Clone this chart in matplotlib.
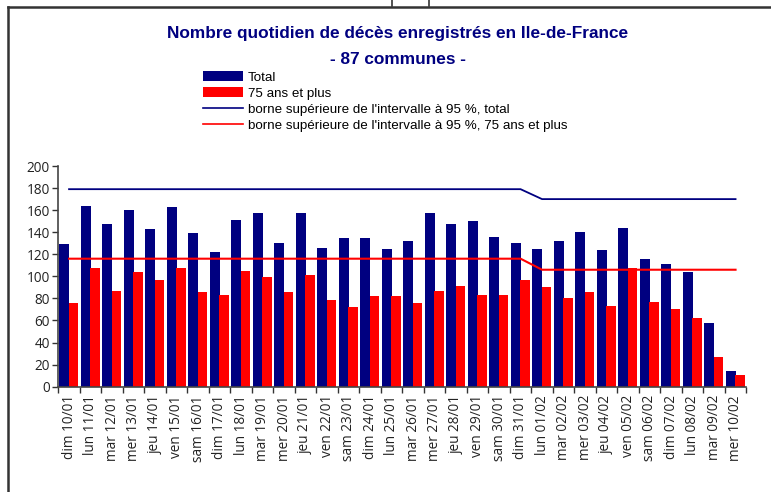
import matplotlib
matplotlib.use("Agg")
import matplotlib.pyplot as plt
from matplotlib import font_manager
from matplotlib.lines import Line2D
from matplotlib.patches import Patch
import numpy as np

labels = ["dim 10/01", "lun 11/01", "mar 12/01", "mer 13/01", "jeu 14/01", "ven 15/01",
          "sam 16/01", "dim 17/01", "lun 18/01", "mar 19/01", "mer 20/01", "jeu 21/01",
          "ven 22/01", "sam 23/01", "dim 24/01", "lun 25/01", "mar 26/01", "mer 27/01",
          "jeu 28/01", "ven 29/01", "sam 30/01", "dim 31/01", "lun 01/02", "mar 02/02",
          "mer 03/02", "jeu 04/02", "ven 05/02", "sam 06/02", "dim 07/02", "lun 08/02",
          "mar 09/02", "mer 10/02"]
total = [129, 164, 147, 160, 143, 163, 139, 122, 151, 157, 130, 157, 126, 135, 135, 125,
         132, 157, 147, 150, 136, 130, 125, 132, 140, 124, 144, 116, 111, 104, 58, 14]
age75 = [76, 108, 87, 104, 97, 108, 86, 83, 105, 99, 86, 101, 79, 72, 82, 82,
         76, 87, 91, 83, 83, 97, 90, 80, 86, 73, 108, 77, 70, 62, 27, 11]
upper_total = [179] * 22 + [170] * 10
upper_75 = [116] * 22 + [106] * 10
yticks = [0, 20, 40, 60, 80, 100, 120, 140, 160, 180, 200]

avail = {f.name for f in font_manager.fontManager.ttflist}
narrow = "Liberation Sans Narrow" if "Liberation Sans Narrow" in avail else None

NAVY = "#000080"
RED = "#FF0000"

W, H = 771, 492
fig = plt.figure(figsize=(W / 100, H / 100), dpi=100)
ax = fig.add_axes([58.3 / W, 1 - 386.7 / H, 688 / W, 220.7 / H])

x = np.arange(len(labels))
bw = 0.45
ax.bar(x - 0.22, total, width=bw, color=NAVY, zorder=2)
ax.bar(x + 0.21, age75, width=bw, color=RED, zorder=2)
ax.plot(x, upper_total, color=NAVY, lw=1.3, zorder=3)
ax.plot(x, upper_75, color=RED, lw=1.5, zorder=3)

ax.set_xlim(-0.5, len(labels) - 0.5)
ax.set_ylim(0, 200)
ax.set_yticks(yticks)
tickfont = "Open Sans"
ax.set_yticklabels([str(v) for v in yticks], fontsize=9.8, family=tickfont, color="#222222")
ax.set_xticks(x)
ax.set_xticklabels(labels, rotation=90, fontsize=9.8, family=tickfont, color="#222222")
ax.set_xticks(np.arange(len(labels) + 1) - 0.5, minor=True)
ax.tick_params(axis="x", which="major", length=0, pad=6)
ax.tick_params(axis="x", which="minor", length=4, width=1, color="#333333", direction="out")
ax.tick_params(axis="y", length=4, width=1, color="#333333", direction="out", pad=2)
for s in ["top", "right"]:
    ax.spines[s].set_visible(False)
for s in ["left", "bottom"]:
    ax.spines[s].set_color("#444444")
    ax.spines[s].set_linewidth(1.2)

# title
if narrow:
    tfam, tsize = narrow, 14
else:
    tfam, tsize = "Liberation Sans", 12.4
fig.text(398 / W, 1 - 33 / H, "Nombre quotidien de décès enregistrés en Ile-de-France",
         ha="center", va="center", fontsize=tsize, fontweight="bold", color=NAVY, family=tfam)
fig.text(398 / W, 1 - 60 / H, "- 87 communes -",
         ha="center", va="center", fontsize=tsize, fontweight="bold", color=NAVY, family=tfam)

# legend
lfam = narrow if narrow else "Liberation Sans"
lsize = 10.5 if narrow else 9.6
handles = [Patch(facecolor=NAVY, edgecolor="none"),
           Patch(facecolor=RED, edgecolor="none"),
           Line2D([], [], color=NAVY, lw=1.2),
           Line2D([], [], color=RED, lw=1.2)]
leg_labels = ["Total", "75 ans et plus",
              "borne supérieure de l'intervalle à 95 %, total",
              "borne supérieure de l'intervalle à 95 %, 75 ans et plus"]
fpx = lsize * 100 / 72
fig.legend(handles, leg_labels, loc="upper left", bbox_to_anchor=(203 / W, 1 - 71 / H),
           frameon=False, borderpad=0, borderaxespad=0,
           handlelength=40 / fpx, handleheight=11 / fpx, handletextpad=5 / fpx,
           labelspacing=(16.5 - fpx) / fpx,
           prop={"family": lfam, "size": lsize})

# outer frame lines
fig.add_artist(Line2D([8 / W, 1], [1 - 7 / H, 1 - 7 / H], color="#333333", lw=1.8))
fig.add_artist(Line2D([8 / W, 8 / W], [0, 1 - 7 / H], color="#333333", lw=1.8))
fig.add_artist(Line2D([392 / W, 392 / W], [1 - 6 / H, 1], color="#333333", lw=1.2))
fig.add_artist(Line2D([429 / W, 429 / W], [1 - 6 / H, 1], color="#333333", lw=1.2))

fig.savefig("out.png", dpi=100)
